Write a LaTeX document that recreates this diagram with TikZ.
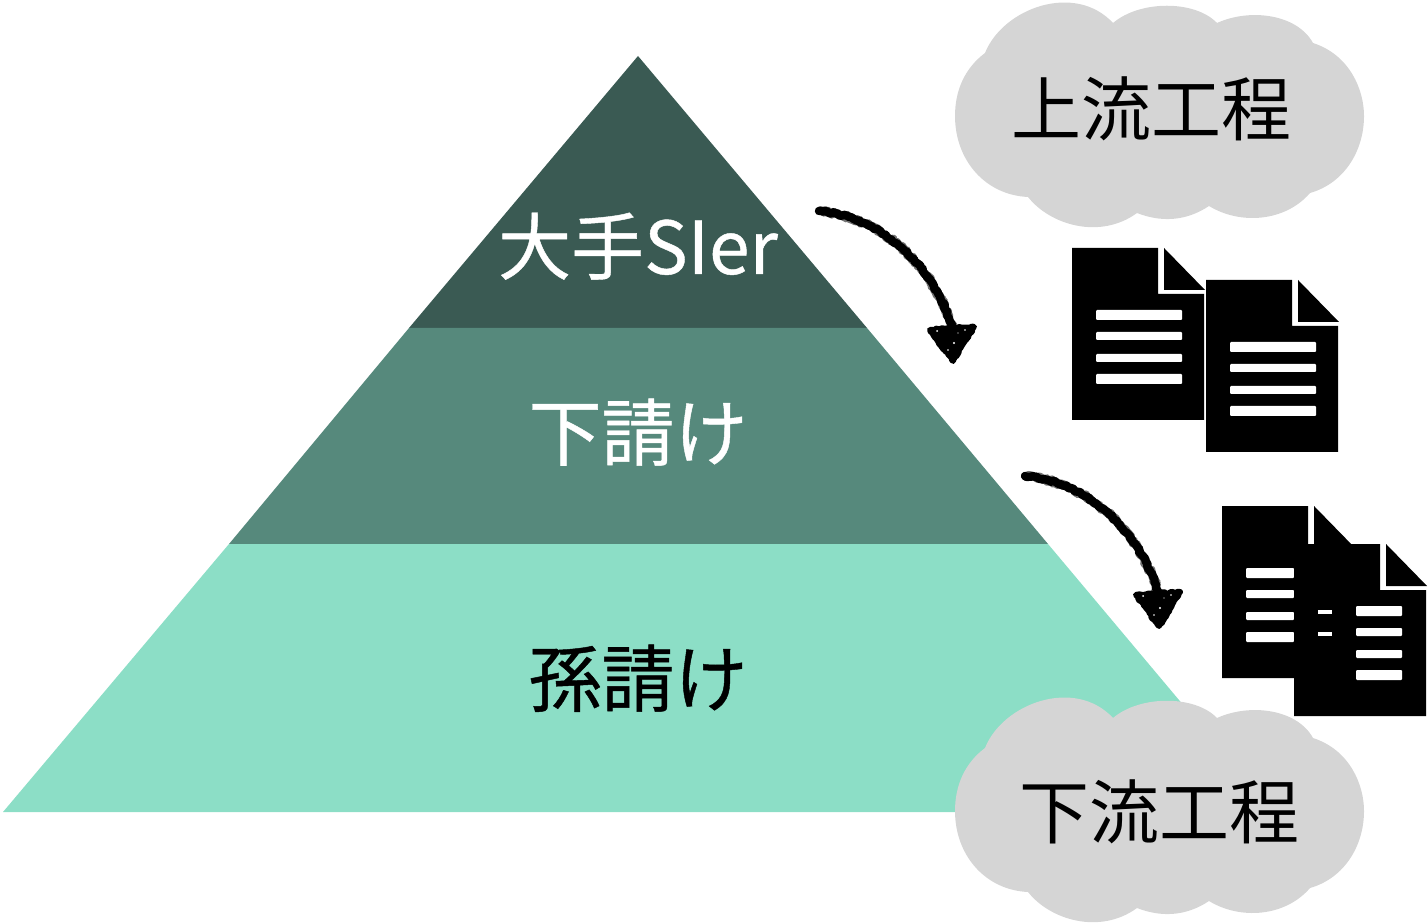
\documentclass[tikz,border=0pt]{standalone}
\usepackage{fontspec}
\setmainfont{Noto Sans CJK JP}
\newfontfamily\pyrfont[FakeBold=0.6]{Noto Sans CJK JP}
\usetikzlibrary{decorations.pathmorphing}
\definecolor{bandA}{HTML}{3A5A53}
\definecolor{bandB}{HTML}{56897C}
\definecolor{bandC}{HTML}{8CDEC6}
\definecolor{cloudgray}{HTML}{D5D5D5}
\tikzset{
  lbl/.style={font=\fontsize{35}{35}\selectfont, anchor=base, inner sep=0pt},
  pyrlbl/.style={font=\pyrfont\fontsize{36.5}{36.5}\selectfont, anchor=base, inner sep=0pt},
  rough/.style={decorate, decoration={random steps, segment length=1pt, amplitude=0.5pt}},
  fuzzline/.style={decorate, decoration={random steps, segment length=0.8pt, amplitude=1pt}, draw=black!55, line width=4pt, line cap=round, line join=round},
  roughline/.style={rough, draw=black, line width=4.2pt, line cap=round, line join=round},
  roughhead/.style={rough, draw=black, fill=black, line width=3pt, line join=round},
  docline/.style={fill=white, rounded corners=0.5pt},
}
\newcommand{\cloudshape}[2]{%
  \fill[cloudgray, shift={(#1,#2)}] (985,53)
    .. controls (1003,8) and (1075,-18) .. (1113,23)
    .. controls (1140,0) and (1195,0) .. (1217,23)
    .. controls (1250,8) and (1297,14) .. (1313,43)
    .. controls (1350,55) and (1364,90) .. (1364,116)
    .. controls (1364,150) and (1345,183) .. (1310,193)
    .. controls (1285,222) and (1240,225) .. (1209,206)
    .. controls (1185,222) and (1160,222) .. (1137,213)
    .. controls (1100,240) and (1050,225) .. (1028,197)
    .. controls (985,195) and (955,160) .. (955,116)
    .. controls (955,90) and (965,68) .. (985,53) -- cycle;}
\newcommand{\docbody}[2]{%
  \begin{scope}[shift={(#1,#2)}]
    \fill[black] (1072,248) -- (1158,248) -- (1158,294) -- (1204,294) -- (1204,420) -- (1072,420) -- cycle;
    \fill[black] (1164,248) -- (1205,290) -- (1164,290) -- cycle;
  \end{scope}}
\newcommand{\doclines}[4]{% dx dy xleft xright
  \begin{scope}[shift={(#1,#2)}]
    \fill[docline] (#3,310) rectangle (#4,320);
    \fill[docline] (#3,332) rectangle (#4,340);
    \fill[docline] (#3,354) rectangle (#4,362);
    \fill[docline] (#3,374) rectangle (#4,384);
  \end{scope}}
\begin{document}
\begin{tikzpicture}[x=0.5pt,y=-0.5pt]
\useasboundingbox (0,0) rectangle (1428,924);
% pyramid
\fill[bandA] (638,56) -- (867,328) -- (409,328) -- cycle;
\fill[bandB] (409,328) -- (867,328) -- (1048,544) -- (229,544) -- cycle;
\fill[bandC] (229,544) -- (1048,544) -- (1273,812) -- (3,812) -- cycle;
\node[pyrlbl, text=white] (top) at (638,274) {大手SIer};
\node[pyrlbl, text=white] (mid) at (638,460) {下請け};
\node[pyrlbl, text=black] (low) at (638,706) {孫請け};
% clouds
\cloudshape{0}{0}
\cloudshape{0}{695}
\node[lbl] (up) at (1151,136) {上流工程};
\node[lbl] (down) at (1159,838) {下流工程};
% documents, upper pair
\docbody{0}{0}
\doclines{0}{0}{1096}{1182}
\docbody{134}{32}
\doclines{134}{32}{1096}{1182}
% documents, lower pair
\docbody{150}{258}
\doclines{150}{258}{1096}{1144}
\docbody{222}{296}
\doclines{222}{296}{1134}{1180}
\fill[white] (1318,610) rectangle (1332,614);
\fill[white] (1318,632) rectangle (1332,636);
% arrows
\coordinate (a1s) at (819,211);
\coordinate (a1e) at (952,327);
\coordinate (a2s) at (1025,476);
\coordinate (a2e) at (1158,592);
\foreach \s/\e/\dx/\dy in {a1s/a1e/0/0, a2s/a2e/206/265}{
  \draw[fuzzline] (\s) .. controls +(55,5) and +(-22,-70) .. (\e);
  \draw[roughline] (\s) .. controls +(55,5) and +(-22,-70) .. (\e);
  \begin{scope}[shift={(\dx,\dy)}]
    \draw[roughhead] (930,330) -- (974,327) -- (953,361) -- cycle;
    \fill[white] (937,331) circle (1) (954,343) circle (1.1) (948,350) circle (0.8) (965,330) circle (0.8) (958,333) circle (0.7);
  \end{scope}
}
\end{tikzpicture}
\end{document}
